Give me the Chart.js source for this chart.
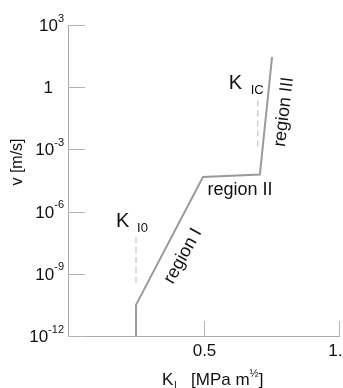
<!DOCTYPE html>
<html>
<head>
<meta charset="utf-8">
<script src="https://cdn.jsdelivr.net/npm/chart.js@4/dist/chart.umd.min.js"></script>
<style>
html,body{margin:0;padding:0;background:#fff;}
#wrap{width:343px;height:388px;position:relative;}
</style>
</head>
<body>
<div id="wrap"><canvas id="c" width="343" height="388"></canvas></div>
<script>
// ---- data ----
const curveK    = [0.251, 0.251, 0.498, 0.708, 0.753];
const curveLogV = [-12, -10.5, -4.33, -4.21, 1.46];
const kI0K = 0.251;
const kI0LogV = [-9.44, -7.2];
const kICK = 0.70;
const kICLogV = [-2.86, -0.58];
const yTickExps = [3, 0, -3, -6, -9, -12];
const xTickVals = [0.5, 1.0];
const xTickLabels = ['0.5', '1.0'];

const FONT = '"Liberation Sans", Arial, sans-serif';
const toPts = (ks, lvs) => lvs.map((lv, i) => ({x: Array.isArray(ks) ? ks[i] : ks, y: Math.pow(10, lv)}));

const decor = {
  id: 'decor',
  afterDraw(chart) {
    const ctx = chart.ctx, xs = chart.scales.x, ys = chart.scales.y;
    const X = v => xs.getPixelForValue(v);
    const Y = lv => ys.getPixelForValue(Math.pow(10, lv));
    const L = ys.right, B = xs.top;
    ctx.save();
    // tick marks (inward)
    ctx.strokeStyle = '#b4b4b4'; ctx.lineWidth = 1;
    yTickExps.forEach(e => {
      const y = Math.round(Y(e)) + 0.5;
      ctx.beginPath(); ctx.moveTo(L, y); ctx.lineTo(L + 17, y); ctx.stroke();
    });
    xTickVals.forEach(v => {
      const x = Math.round(X(v)) + 0.5;
      ctx.beginPath(); ctx.moveTo(x, B); ctx.lineTo(x, B - 15); ctx.stroke();
    });
    // y tick labels
    ctx.fillStyle = '#111';
    ctx.textBaseline = 'alphabetic';
    yTickExps.forEach(e => {
      const y = Y(e);
      if (e === 0) {
        ctx.font = '17px ' + FONT; ctx.textAlign = 'right';
        ctx.fillText('1', 53, y + 6);
        return;
      }
      const exp = e < 0 ? '-' + (-e) : String(e);
      ctx.font = '11px ' + FONT;
      const we = ctx.measureText(exp).width;
      ctx.textAlign = 'left';
      ctx.fillText(exp, 64 - we, y - 3.5);
      ctx.font = '17px ' + FONT; ctx.textAlign = 'right';
      ctx.fillText('10', 64 - we, y + 6);
    });
    // x tick labels
    ctx.font = '17px ' + FONT; ctx.textAlign = 'center';
    xTickVals.forEach((v, i) => ctx.fillText(xTickLabels[i], X(v) + 1, 356));
    // x title
    ctx.textAlign = 'left';
    ctx.font = '17px ' + FONT; ctx.fillText('K', 162, 385);
    ctx.font = '10px ' + FONT; ctx.fillText('I', 174, 389);
    ctx.font = '17px ' + FONT; ctx.fillText('[MPa m', 191, 385);
    let w = ctx.measureText('[MPa m').width;
    ctx.font = '11px ' + FONT; ctx.fillText('½', 191 + w, 377);
    let w2 = ctx.measureText('½').width;
    ctx.font = '17px ' + FONT; ctx.fillText(']', 191 + w + w2, 385);
    // y title
    ctx.save();
    ctx.translate(18, 162); ctx.rotate(-Math.PI / 2);
    ctx.font = '16px ' + FONT; ctx.textAlign = 'center'; ctx.textBaseline = 'middle';
    ctx.fillText('v [m/s]', 0, 0);
    ctx.restore();
    // K labels
    ctx.textAlign = 'left'; ctx.textBaseline = 'alphabetic';
    ctx.font = '20px ' + FONT; ctx.fillText('K', X(kI0K) - 20, 227);
    ctx.font = '13px ' + FONT; ctx.fillText('I0', X(kI0K) + 1, 232);
    ctx.font = '20px ' + FONT; ctx.fillText('K', X(kICK) - 29, 89);
    ctx.font = '13px ' + FONT; ctx.fillText('IC', X(kICK) - 7, 94);
    // region labels
    ctx.font = '18px ' + FONT;
    ctx.textAlign = 'center'; ctx.textBaseline = 'middle';
    ctx.fillText('region II', 240, 190);
    ctx.save(); ctx.translate(183, 256); ctx.rotate(-61 * Math.PI / 180);
    ctx.fillText('region I', 0, 0); ctx.restore();
    ctx.save(); ctx.translate(284, 112); ctx.rotate(-83 * Math.PI / 180);
    ctx.fillText('region III', 0, 0); ctx.restore();
    ctx.restore();
  }
};

new Chart(document.getElementById('c'), {
  type: 'line',
  data: {
    datasets: [
      {data: toPts(curveK, curveLogV), borderColor: '#9a9a9a', borderWidth: 2, pointRadius: 0, tension: 0, fill: false},
      {data: toPts(kI0K, kI0LogV), borderColor: '#cfcfcf', borderWidth: 1.5, borderDash: [6, 4], pointRadius: 0, fill: false},
      {data: toPts(kICK, kICLogV), borderColor: '#cfcfcf', borderWidth: 1.5, borderDash: [6, 4], pointRadius: 0, fill: false}
    ]
  },
  options: {
    responsive: false,
    animation: false,
    devicePixelRatio: 1,
    layout: {padding: {top: 25, right: 4, left: 0, bottom: 0}},
    plugins: {legend: {display: false}, tooltip: {enabled: false}},
    scales: {
      x: {
        type: 'linear', min: 0, max: 1.0,
        grid: {display: false},
        border: {display: true, color: '#a8a8a8', width: 1},
        ticks: {display: false},
        afterFit(s) { s.height = 52; s.paddingLeft = 0; s.paddingRight = 0; }
      },
      y: {
        type: 'logarithmic', min: 1e-12, max: 1e3,
        grid: {display: false},
        border: {display: true, color: '#a8a8a8', width: 1},
        ticks: {display: false},
        afterFit(s) { s.width = 68; s.paddingTop = 0; s.paddingBottom = 0; }
      }
    }
  },
  plugins: [decor]
});
</script>
</body>
</html>
